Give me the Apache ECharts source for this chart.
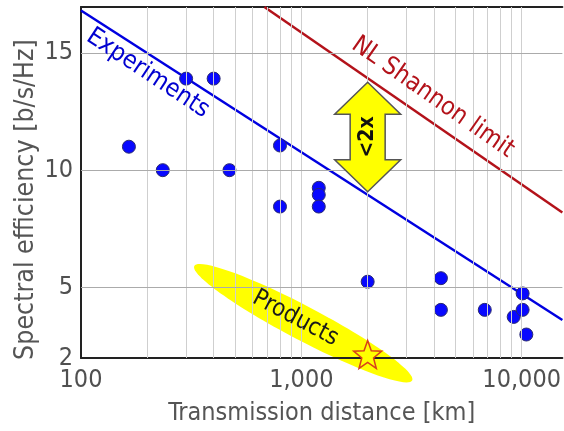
<!DOCTYPE html>
<html>
<head>
<meta charset="utf-8">
<script src="https://cdn.jsdelivr.net/npm/echarts@6/dist/echarts.min.js"></script>
<style>
  html, body { margin: 0; padding: 0; background: #fff; }
  #chart { width: 564px; height: 431px; }
</style>
</head>
<body>
<div id="chart"></div>
<script>
// Transmission experiments: distance [km] and spectral efficiency [b/s/Hz]
const expDistance   = [165, 235, 300, 400, 472, 800, 800, 1200, 1200, 1200, 2000, 4300, 4300, 6800, 9200, 10100, 10100, 10500];
const expEfficiency = [11.0, 10.0, 13.9, 13.9, 10.0, 11.05, 8.45, 9.25, 8.95, 8.45, 5.25, 5.4, 4.05, 4.05, 3.75, 4.05, 4.75, 3.0];

// Commercial product point
const productPoint = [2000, 2.15];

// Experimental trend and nonlinear Shannon limit (distance, efficiency)
const experimentsLine = [[100, 16.8], [15300, 3.62]];
const shannonLine     = [[680, 16.95], [15300, 8.2]];

// Axis ticks and grid
const xTickLabels = [100, 1000, 10000];
const yTickLabels = [2, 5, 10, 15];
const xGridValues = [200, 300, 400, 500, 600, 700, 800, 900, 1000,
                     2000, 3000, 4000, 5000, 6000, 7000, 8000, 9000, 10000];
const yGridValues = [5, 10, 15];

// Annotation anchors (distance, efficiency)
const experimentsLabelAt = [201, 14.12];
const shannonLabelAt     = [3950, 13.1];
const productsLabelAt    = [940, 3.69];
const productsBandAt     = [1020, 3.48];
const gapArrowDistance   = 2000;

const FONT = "'DejaVu Sans Condensed', 'DejaVu Sans', sans-serif";
const X_MIN = 100, X_MAX = 15300, Y_MIN = 2, Y_MAX = 16.95;

function lineValueAt(line, x) {
  const [a, b] = line;
  const t = (Math.log10(x) - Math.log10(a[0])) / (Math.log10(b[0]) - Math.log10(a[0]));
  return a[1] + t * (b[1] - a[1]);
}

function starPath() {
  let d = '';
  for (let i = 0; i < 10; i++) {
    const r = i % 2 === 0 ? 50 : 21;
    const ang = -Math.PI / 2 + i * Math.PI / 5;
    const x = (50 + r * Math.cos(ang)).toFixed(2);
    const y = (50 + r * Math.sin(ang)).toFixed(2);
    d += (i === 0 ? 'M' : 'L') + x + ' ' + y + ' ';
  }
  return 'path://' + d + 'Z';
}

const chart = echarts.init(document.getElementById('chart'), null, { renderer: 'canvas' });

const option = {
  animation: false,
  backgroundColor: '#ffffff',
  grid: { left: 81, right: 0, top: 7, bottom: 71, containLabel: false },
  xAxis: [{
    type: 'log',
    logBase: 10,
    min: X_MIN,
    max: X_MAX,
    z: 3,
    name: 'Transmission distance [km]',
    nameLocation: 'middle',
    nameGap: 43,
    nameTextStyle: { fontFamily: FONT, fontSize: 25, color: '#555' },
    axisLine: { show: true, lineStyle: { color: '#222', width: 2 } },
    axisTick: { show: false },
    splitLine: { show: false },
    axisLabel: {
      margin: 10,
      fontFamily: FONT,
      fontSize: 25,
      color: '#505050',
      showMaxLabel: false,
      formatter: v => xTickLabels.some(t => Math.abs(t - v) / t < 1e-6) ? Math.round(v).toLocaleString('en-US') : ''
    }
  }, {
    type: 'value',
    position: 'top',
    min: 0, max: 1,
    z: 3,
    axisLine: { show: true, onZero: false, lineStyle: { color: '#222', width: 2 } },
    axisTick: { show: false },
    axisLabel: { show: false },
    splitLine: { show: false }
  }],
  yAxis: {
    type: 'value',
    min: Y_MIN,
    max: Y_MAX,
    interval: 1,
    z: 3,
    axisLine: { show: true, lineStyle: { color: '#222', width: 2 } },
    axisTick: { show: false },
    splitLine: { show: false },
    axisLabel: {
      margin: 8,
      fontFamily: FONT,
      fontSize: 25,
      color: '#505050',
      formatter: v => yTickLabels.includes(v) ? String(v) : ''
    }
  },
  series: [
    {
      // grid lines
      type: 'line',
      data: [],
      z: 1,
      silent: true,
      markLine: {
        silent: true,
        symbol: 'none',
        label: { show: false },
        animation: false,
        data: xGridValues.map(v => ({ xAxis: v, lineStyle: { color: '#cfcfcf', width: 1, type: 'solid' } }))
          .concat(yGridValues.map(v => ({ yAxis: v, lineStyle: { color: '#ababab', width: 1, type: 'solid' } })))
      }
    },
    {
      name: 'Experiments',
      type: 'scatter',
      z: 4,
      symbol: 'circle',
      symbolSize: 13,
      itemStyle: { color: '#0808ff', opacity: 1, borderColor: '#2b2b70', borderWidth: 1 },
      data: expDistance.map((d, i) => [d, expEfficiency[i]])
    },
    {
      name: 'Experiments trend',
      type: 'line',
      z: 4,
      symbol: 'none',
      lineStyle: { color: '#0000e0', width: 2.5 },
      data: experimentsLine
    },
    {
      name: 'NL Shannon limit',
      type: 'line',
      z: 4,
      symbol: 'none',
      lineStyle: { color: '#b3121a', width: 2.5 },
      data: shannonLine
    },
    {
      name: 'Products',
      type: 'scatter',
      z: 5,
      clip: false,
      symbol: starPath(),
      symbolSize: 28,
      itemStyle: { color: '#ffff00', opacity: 1, borderColor: '#d8401a', borderWidth: 1.5 },
      data: [productPoint]
    }
  ]
};

chart.setOption(option);

const toPx = p => chart.convertToPixel({ seriesIndex: 1 }, p);
const deg = a => a * Math.PI / 180;

// double arrow between the experimental trend and the Shannon limit
const ax = toPx([gapArrowDistance, 10])[0];
const topY = toPx([gapArrowDistance, lineValueAt(shannonLine, gapArrowDistance)])[1] + 4;
const botY = toPx([gapArrowDistance, lineValueAt(experimentsLine, gapArrowDistance)])[1] - 3;
const hw = 33, sw = 17.5, hh = 32;
const arrowPts = [
  [ax, topY], [ax + hw, topY + hh], [ax + sw, topY + hh], [ax + sw, botY - hh], [ax + hw, botY - hh],
  [ax, botY], [ax - hw, botY - hh], [ax - sw, botY - hh], [ax - sw, topY + hh], [ax - hw, topY + hh]
];

const band = toPx(productsBandAt);
const expLab = toPx(experimentsLabelAt);
const shLab = toPx(shannonLabelAt);
const prLab = toPx(productsLabelAt);
const yMid = toPx([X_MIN, 8.75])[1];

chart.setOption({
  graphic: [
    {
      // y axis title
      type: 'text',
      x: 26, y: yMid,
      rotation: deg(90),
      style: { text: 'Spectral efficiency [b/s/Hz]', fontFamily: FONT, fontSize: 26.5, fill: '#555', align: 'center', verticalAlign: 'middle' },
      z: 7
    },
    {
      type: 'ellipse',
      x: band[0], y: band[1],
      rotation: -deg(27.7),
      shape: { cx: 0, cy: 0, rx: 123, ry: 17 },
      style: { fill: '#ffff00' },
      z: 2,
      silent: true
    },
    {
      type: 'polygon',
      shape: { points: arrowPts },
      style: { fill: '#ffff00', stroke: '#555555', lineWidth: 1.5 },
      z: 6,
      silent: true
    },
    {
      type: 'text',
      x: ax, y: (topY + botY) / 2,
      rotation: deg(90),
      style: { text: '<2x', fontFamily: FONT, fontSize: 21, fontWeight: 'bold', fill: '#111', align: 'center', verticalAlign: 'middle' },
      z: 7
    },
    {
      type: 'text',
      x: expLab[0], y: expLab[1],
      rotation: -deg(33.5),
      style: { text: 'Experiments', fontFamily: FONT, fontSize: 25, fill: '#0000d0', align: 'center', verticalAlign: 'middle' },
      z: 7
    },
    {
      type: 'text',
      x: shLab[0], y: shLab[1],
      rotation: -deg(35),
      style: { text: 'NL Shannon limit', fontFamily: FONT, fontSize: 25, fill: '#b3121a', align: 'center', verticalAlign: 'middle' },
      z: 7
    },
    {
      type: 'text',
      x: prLab[0], y: prLab[1],
      rotation: -deg(28),
      style: { text: 'Products', fontFamily: FONT, fontSize: 24, fill: '#1a1a1a', align: 'center', verticalAlign: 'middle' },
      z: 7
    }
  ]
});
</script>
</body>
</html>
